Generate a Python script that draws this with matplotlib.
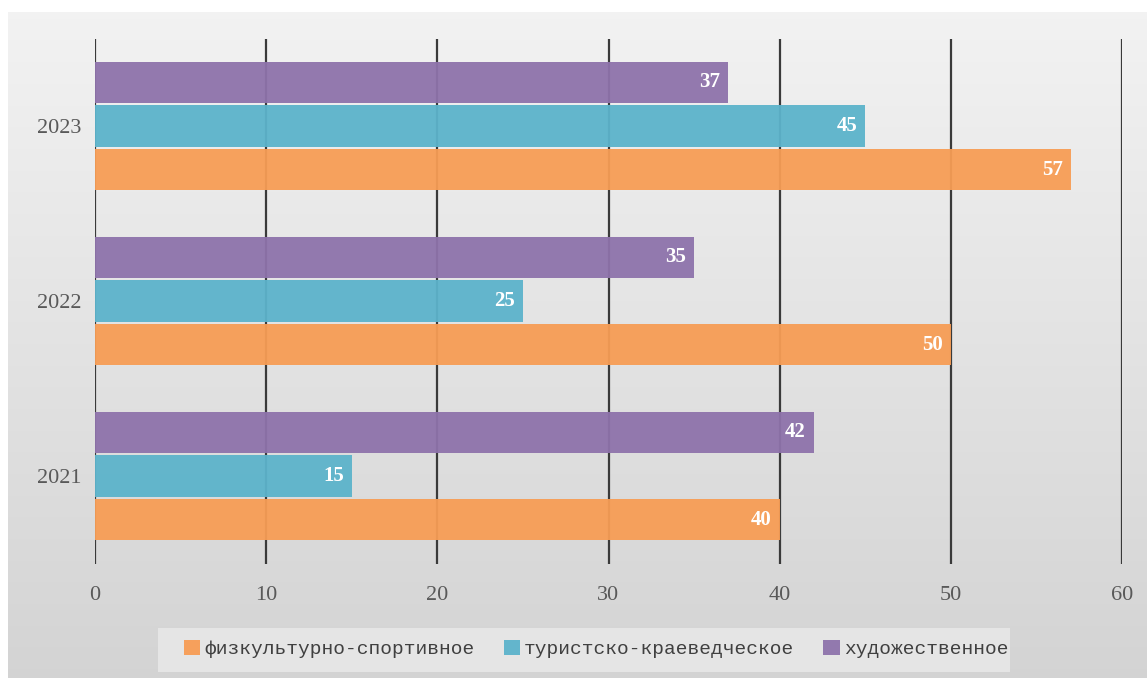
import matplotlib
matplotlib.use("Agg")
import matplotlib.pyplot as plt
from matplotlib.patches import Rectangle
import numpy as np

# data
years = ["2021", "2022", "2023"]
series_names = ["физкультурно-спортивное", "туристско-краеведческое", "художественное"]
sport = [40, 50, 57]
tourism = [15, 25, 45]
art = [42, 35, 37]
xticks = [0, 10, 20, 30, 40, 50, 60]

colors = ["#F79D55", "#5CB3CB", "#8E73AB"]

plt.rcParams['font.family'] = ['Liberation Serif', 'DejaVu Serif']

W, H = 1147, 678
fig = plt.figure(figsize=(W / 100, H / 100), dpi=100)
fig.patch.set_facecolor("white")

# gray gradient panel behind the chart
bg = fig.add_axes([8 / W, 0, 1 - 8 / W, 1 - 12 / H], zorder=-10)
grad = np.linspace(0.95, 0.83, 256).reshape(-1, 1)
bg.imshow(np.dstack([grad, grad, grad]), aspect="auto", extent=[0, 1, 0, 1])
bg.axis("off")

# lighter box under the legend
fig.patches.append(Rectangle((158 / W, (H - 672) / H), 852 / W, 44 / H,
                             transform=fig.transFigure, facecolor="#e5e5e5",
                             edgecolor="none", zorder=-5))

ax = fig.add_axes([95 / W, 114.5 / H, 1027 / W, 525 / H])
ax.set_facecolor("none")

y = np.arange(len(years))
off = 0.25
h = 0.235
all_series = [sport, tourism, art]
offsets = [-off, 0, off]
for vals, c, o, name in zip(all_series, colors, offsets, series_names):
    bars = ax.barh(y + o, vals, height=h, color=c, label=name, zorder=3, alpha=0.95)
    for b, v in zip(bars, vals):
        ax.annotate(str(v), (v, b.get_y() + b.get_height() / 2), xytext=(-8, 0),
                    textcoords="offset pixels", ha="right", va="center",
                    color="white", fontweight="bold", fontsize=15, zorder=5)

ax.set_xlim(0, 60)
ax.set_ylim(-0.5, 2.5)
ax.set_xticks(xticks)
ax.set_yticks(y)
ax.set_yticklabels(years)
for x in xticks:
    ax.axvline(x, color="#3a3a3a", linewidth=1.6, zorder=1)
for s in ax.spines.values():
    s.set_visible(False)
ax.tick_params(axis="both", length=0, labelsize=16, labelcolor="#595959")
ax.tick_params(axis="x", pad=16)
ax.tick_params(axis="y", pad=10)

leg = fig.legend(*ax.get_legend_handles_labels(), loc="center",
                 bbox_to_anchor=(596 / W, (H - 649) / H), ncol=3, frameon=False,
                 prop={"family": ["Liberation Mono", "DejaVu Sans Mono"], "size": 14},
                 handlelength=0.85, handleheight=0.8, handletextpad=0.2,
                 columnspacing=1.5)
for t in leg.get_texts():
    t.set_color("#404040")

fig.savefig("out.png", dpi=100)
